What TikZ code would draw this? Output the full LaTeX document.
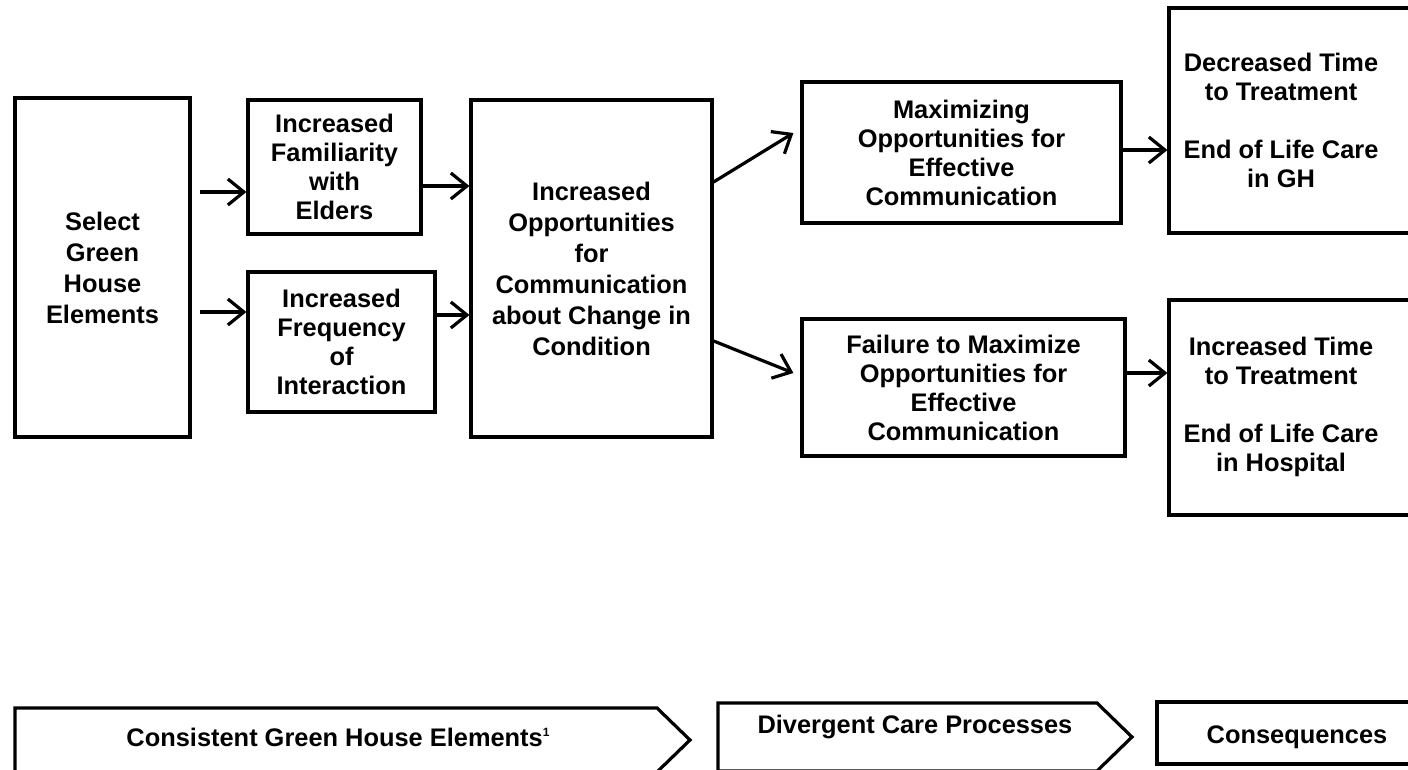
\documentclass[tikz,border=0pt]{standalone}
\usepackage{fontspec}
\setmainfont{Liberation Sans}
\usetikzlibrary{arrows.meta,calc}
\begin{document}
\begin{tikzpicture}[x=0.5pt,y=-0.5pt,
  every node/.style={font=\fontsize{12.7}{14.5}\selectfont\bfseries},
  box/.style={draw,line width=1.6pt,inner sep=0pt,align=center},
  txt/.style={align=center,inner sep=0pt},
  arr/.style={line width=1.6pt,-{Straight Barb[length=8pt,width=13pt,line width=1.6pt]}},
  chev/.style={draw,line width=1.6pt,line join=miter}]
\useasboundingbox (0,0) rectangle (1408,770);
\clip (0,0) rectangle (1408,770);
% boxes
\node[box,minimum width=87.5pt,minimum height=169.5pt] (select) at (102.5,267.5) {Select\\[1pt]Green\\[1pt]House\\[1pt]Elements};
\node[box,minimum width=86.5pt,minimum height=67pt] (famil) at (334.5,167) {Increased\\Familiarity\\with\\Elders};
\node[box,minimum width=93.5pt,minimum height=70pt] (freq) at (341.5,342) {Increased\\Frequency\\of\\Interaction};
\node[box,minimum width=120.5pt,minimum height=168.5pt] (center) at (591.5,268.5) {Increased\\[1pt]Opportunities\\[1pt]for\\[1pt]Communication\\[1pt]about Change in\\[1pt]Condition};
\node[box,minimum width=159.5pt,minimum height=70.5pt] (maxim) at (961.5,152.5) {Maximizing\\Opportunities for\\Effective\\Communication};
\node[box,minimum width=161.5pt,minimum height=68.5pt] (fail) at (963.5,387.5) {Failure to Maximize\\Opportunities for\\Effective\\Communication};
\node[box,minimum width=130.5pt,minimum height=112.5pt] (decr) at (1299.5,120.5) {};
\node[txt] (decrtext) at (1281,120) {Decreased Time\\to Treatment\\[14.5pt]End of Life Care\\in GH};
\node[box,minimum width=130.5pt,minimum height=107.5pt] (incr) at (1299.5,407.5) {};
\node[txt] (incrtext) at (1281,407) {Increased Time\\to Treatment\\[14.5pt]End of Life Care\\in Hospital};
% arrows
\draw[arr] ([xshift=4pt]select.east |- 0,192) -- (famil.west |- 0,192);
\draw[arr] ([xshift=4pt]select.east |- 0,312) -- (freq.west |- 0,312);
\draw[arr] (famil.east |- 0,186) -- (center.west |- 0,186);
\draw[arr] (freq.east |- 0,315) -- (center.west |- 0,315);
\draw[arr] (center.east |- 0,182) -- ([xshift=-3.5pt]maxim.west |- 0,133);
\draw[arr] (center.east |- 0,341) -- ([xshift=-3.5pt]fail.west |- 0,373);
\draw[arr] (maxim.east |- 0,150) -- (decr.west |- 0,150);
\draw[arr] (fail.east |- 0,373) -- (incr.west |- 0,373);
% bottom stages
\draw[chev] (15,708) -- (657,708) -- (690,740) -- (657,772) -- (15,772) -- cycle;
\node[txt] (stage1) at (338,737) {Consistent Green House Elements\raisebox{5pt}{\fontsize{6}{6}\selectfont 1}};
\draw[chev] (718,703) -- (1097,703) -- (1132,737) -- (1097,771) -- (718,771) -- cycle;
\node[txt] (stage2) at (915,727) {Divergent Care Processes};
\node[box,minimum width=136.5pt,minimum height=31pt] (conseq) at (1293.5,733) {};
\node[txt] (stage3) at (1297,737) {Consequences};
\end{tikzpicture}
\end{document}
